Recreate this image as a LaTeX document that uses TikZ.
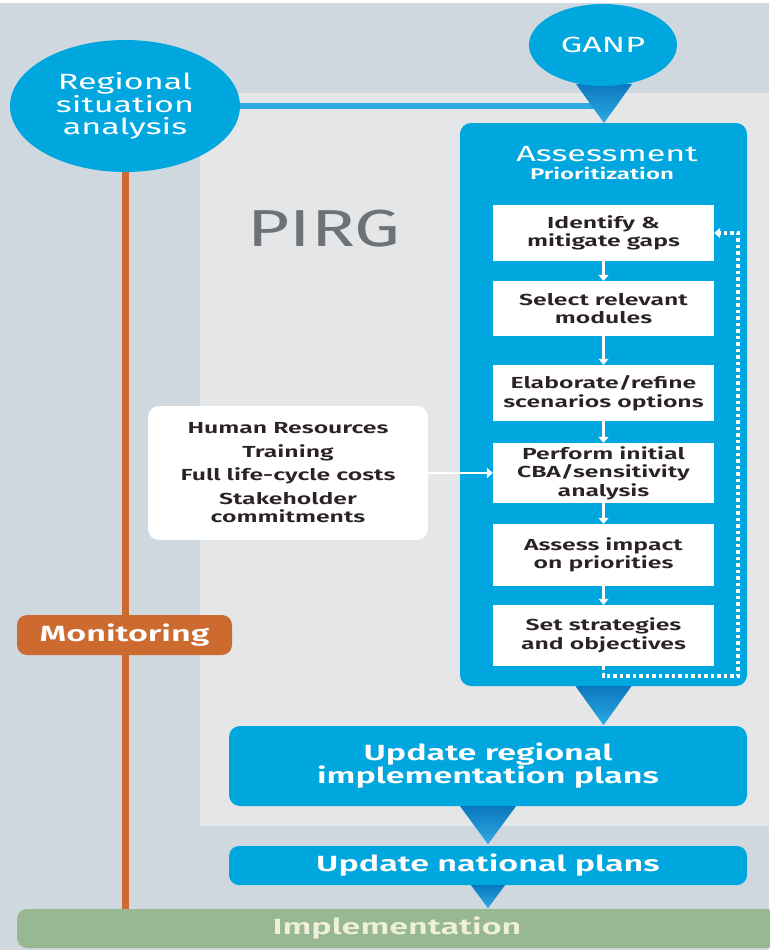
\documentclass[tikz,border=0pt]{standalone}
\usepackage{fontspec}
\setmainfont[FakeStretch=1.55, BoldFont={Fira Sans SemiBold}]{Fira Sans}
\newfontfamily\pirgfont[FakeStretch=1.4]{Fira Sans}
\usetikzlibrary{arrows.meta,shapes.geometric,calc}
\definecolor{bgout}{HTML}{D0D8DF}
\definecolor{bgin}{HTML}{E4E6E8}
\definecolor{cblue}{HTML}{00A6DE}
\definecolor{lblue}{HTML}{2EAAE2}
\definecolor{dblue}{HTML}{0B78BE}
\definecolor{orng}{HTML}{CC6A2F}
\definecolor{grn}{HTML}{97B890}
\definecolor{cream}{HTML}{EFF0DC}
\definecolor{txtdark}{HTML}{2B2222}
\definecolor{pirggray}{HTML}{6E7277}
\newcommand\fsz[2]{\fontsize{#1}{#2}\selectfont}
\begin{document}
\begin{tikzpicture}[x=1pt,y=-1pt,
  bluebox/.style={fill=cblue, rounded corners=11pt, text=white, align=center, inner sep=0pt, font=\fsz{22}{23}\bfseries},
  stepbox/.style={fill=white, minimum width=221pt, text=txtdark, align=center, inner sep=0pt, font=\fsz{16}{18.5}\bfseries},
  warrow/.style={white, line width=2.2pt, -{Triangle[width=10pt,length=6pt]}},
  tri/.style={top color=dblue, bottom color=lblue, draw=none},
  fb/.style={white, line width=3.4pt, dash pattern=on 3.5pt off 3pt, -{Triangle[width=10pt,length=6pt]}}
]
\useasboundingbox (0,0) rectangle (769,950);
% backgrounds
\fill[bgout] (0,0) rectangle (769,950);
\fill[white] (0,0) rectangle (769,3);
\fill[bgin] (200,93) rectangle (769,826);
\node[pirggray, font=\pirgfont\fsz{52}{52}] (pirg) at (324,229) {PIRG};

% main nodes
\node[ellipse, fill=cblue, minimum width=230pt, minimum height=132pt, inner sep=0pt, text=white, align=center, font=\fsz{22}{22.5}] (rsa) at (125,106) {Regional\\situation\\analysis};
\node[bluebox, minimum width=287pt, minimum height=563pt] (asm) at (603.5,404.5) {};
\node[text=white, font=\fsz{22}{22}] (asmt) at (607,154) {Assessment};
\node[text=white, font=\fsz{15.5}{15.5}\bfseries] (prio) at (602,173) {Prioritization};

\node[stepbox, minimum height=56pt] (b1) at (603.5,233) {Identify \&\\mitigate gaps};
\node[stepbox, minimum height=55pt] (b2) at (603.5,308.5) {Select relevant\\modules};
\node[stepbox, minimum height=56pt] (b3) at (603.5,393) {Elaborate/refine\\scenarios options};
\node[stepbox, minimum height=60pt] (b4) at (603.5,473) {Perform initial\\CBA/sensitivity\\analysis};
\node[stepbox, minimum height=62pt] (b5) at (603.5,555) {Assess impact\\on priorities};
\node[stepbox, minimum height=61pt] (b6) at (603.5,635.5) {Set strategies\\and objectives};

\node[fill=white, rounded corners=11pt, minimum width=280pt, minimum height=134pt, inner sep=0pt, text=txtdark, align=center, font=\fsz{16}{23.5}\bfseries] (hr) at (288,473) {Human Resources\\Training\\Full life-cycle costs\\Stakeholder\\[-5pt]commitments};

\node[bluebox, minimum width=518pt, minimum height=80pt] (ureg) at (488,766) {Update regional\\implementation plans};
\node[bluebox, minimum width=518pt, minimum height=39pt, rounded corners=10pt] (unat) at (488,865.5) {Update national plans};
\node[fill=grn, rounded corners=10pt, minimum width=760pt, minimum height=39pt, inner sep=0pt, text=cream, font=\fsz{22}{22}\bfseries] (impl) at (397,928.5) {Implementation};

% orange monitoring line
\draw[orng, line width=7pt] (rsa.south) -- (rsa.south |- impl.north);
\node[fill=orng, rounded corners=10pt, minimum width=215pt, minimum height=40pt, inner sep=0pt, text=white, font=\fsz{22}{22}\bfseries] (mon) at (124.5,635) {Monitoring};

% GANP with pin
\coordinate (ganptip) at (604,123);
\draw[lblue, line width=6pt] (rsa.east) -- (rsa.east -| ganptip);
\shade[tri] (576,84) -- (632,84) -- (ganptip) -- cycle;
\node[ellipse, fill=cblue, minimum width=148pt, minimum height=82pt, inner sep=0pt, text=white, font=\fsz{22}{22}] (ganp) at (603,45) {GANP};

% pins between blue boxes
\shade[tri] ($(asm.south)+(-28,0)$) -- ($(asm.south)+(28,0)$) -- ($(asm.south)+(0,39)$) -- cycle;
\shade[tri] ($(ureg.south)+(-28,0)$) -- ($(ureg.south)+(28,0)$) -- ($(ureg.south)+(0,38)$) -- cycle;
\shade[tri] ($(unat.south)+(-17,0)$) -- ($(unat.south)+(17,0)$) -- ($(unat.south)+(0,23)$) -- cycle;

% step arrows
\draw[warrow] (b1.south) -- (b2.north);
\draw[warrow] (b2.south) -- (b3.north);
\draw[warrow] (b3.south) -- (b4.north);
\draw[warrow] (b4.south) -- (b5.north);
\draw[warrow] (b5.south) -- (b6.north);
\draw[warrow] (hr.east) -- (b4.west);

% feedback loop
\coordinate (fbr) at (738,676);
\draw[fb] (b6.south) |- (fbr) |- (b1.east);
\end{tikzpicture}
\end{document}
